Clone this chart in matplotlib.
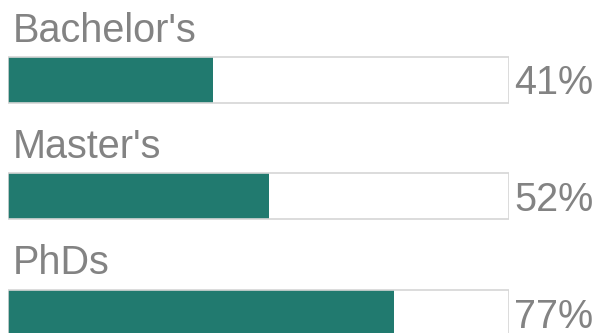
import matplotlib.pyplot as plt
import numpy as np

# share of people per degree level
degrees = ["Bachelor's", "Master's", "PhDs"]
shares = [41, 52, 77]

teal = "#217a6f"
grey_text = "#838383"
grey_line = "#d6d6d6"

W, H = 598, 333
fig = plt.figure(figsize=(W / 100, H / 100), dpi=100)
# x axis in percent, spanning the outline box; y axis in pixel rows
ax = fig.add_axes([8 / W, 0, 501 / W, 1])
ax.set_xlim(0, 100)
ax.set_ylim(H, 0)
ax.axis("off")

bar_h = 46
rows = 79.5 + np.arange(len(degrees)) * 116.5

ax.barh(rows, shares, height=bar_h, color=teal, zorder=2)
ax.barh(rows, 100, height=bar_h, facecolor="none", edgecolor=grey_line,
        linewidth=1.2, zorder=3)

for y, name, val in zip(rows, degrees, shares):
    ax.text(1.0, y - bar_h / 2 - 15, name, fontsize=28.5, color=grey_text,
            family="Liberation Sans", va="baseline", ha="left", clip_on=False)
    ax.annotate(f"{val}%", xy=(100, y), xytext=(5, 0), textcoords="offset pixels",
                fontsize=28.5, color=grey_text, family="Liberation Sans",
                va="center_baseline", ha="left", annotation_clip=False)

fig.savefig("out.png", dpi=100)
